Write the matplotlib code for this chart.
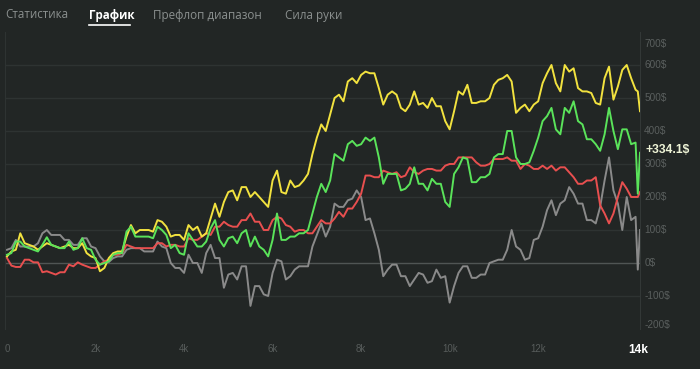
import numpy as np
import matplotlib
matplotlib.use('Agg')
import matplotlib.pyplot as plt
from matplotlib.lines import Line2D

plt.rcParams['font.family'] = ['Liberation Sans', 'DejaVu Sans']

# hands played (x axis): a reading every 100 hands, then the last hands
hands = np.append(np.arange(0, 14201, 100), [14250, 14300])

# winnings in $
yellow = [20, 35, 40, 90, 60, 55, 50, 40, 50, 60, 55, 50, 45, 50, 55, 45, 45, 60, 30, 20, 15, -25, -15, 15,
          30, 35, 35, 80, 115, 90, 100, 100, 100, 95, 130, 125, 110, 80, 85, 85, 70, 115, 100, 110, 80, 90,
          135, 180, 140, 185, 215, 220, 190, 230, 230, 200, 215, 200, 185, 170, 250, 280, 215, 210, 250, 230,
          235, 250, 270, 330,
          380, 420, 400, 450, 500, 510, 490, 550, 560, 545, 570, 580, 575, 575, 530, 480, 510, 520, 510, 470,
          460, 480, 520, 480,
          485, 470, 500, 475, 475, 430, 405, 460, 520, 510, 540, 485, 485, 490, 490, 500, 540, 555, 560, 570,
          550, 455, 470, 480,
          460, 480, 490, 545, 575, 600, 545, 520, 600, 580, 590, 530, 520, 520, 515, 485, 480, 560, 595, 495,
          535, 585, 600, 560, 525, 520, 460]
green = [25, 30, 65, 65, 50, 45, 40, 35, 55, 78, 55, 50, 45, 45, 65, 40, 45, 75, 45, 40, 10, -5, 0, 5,
         25, 30, 30, 95, 110, 80, 80, 80, 80, 75, 110, 100, 85, 45, 55, 30, 25, 90, 70, 50, 50, 65,
         105, 130, 70, 50, 75, 80, 60, 90, 100, 50, 80, 50, 40, 20, 70, 150, 70, 70, 80, 80, 90, 90, 100, 150,
         200, 240, 215, 250, 330, 320, 310, 360, 370, 355, 360, 380, 370, 380, 320, 240, 270, 270, 270, 220,
         225, 240, 290, 240,
         240, 220, 255, 240, 240, 185, 170, 270, 290, 320, 315, 245, 245, 260, 260, 270, 320, 330, 330, 400,
         400, 320, 300, 300,
         305, 340, 380, 430, 445, 470, 405, 390, 470, 455, 490, 430, 420, 375, 375, 360, 340, 390, 470, 400,
         345, 405, 405, 360, 365, 210, 334.1]
red = [15, -8, -12, -12, 10, 10, 2, 2, -28, -25, -30, -35, -28, -28, -5, -10, 2, -5, -10, -15, -15, -5, 5, 10,
       25, 25, 30, 55, 50, 45, 45, 45, 45, 45, 60, 60, 50, 55, 55, 50, 50, 75, 70, 70, 80, 90,
       85, 110, 110, 125, 115, 110, 110, 130, 130, 150, 125, 125, 100, 100, 130, 140, 135, 115, 110, 95,
       100, 100, 90, 90,
       110, 130, 120, 120, 135, 155, 140, 165, 165, 185, 210, 265, 265, 260, 260, 280, 275, 270, 275, 260,
       265, 290, 275, 270,
       280, 285, 285, 280, 280, 295, 300, 300, 320, 320, 320, 320, 305, 295, 295, 300, 315, 315, 315, 320,
       310, 310, 285, 300,
       295, 285, 285, 295, 285, 295, 280, 290, 290, 275, 260, 240, 240, 250, 250, 260, 175, 150, 120, 150,
       200, 245, 225, 200, 200, 200, 215]
gray = [40, 45, 70, 50, 50, 50, 50, 60, 90, 100, 85, 85, 85, 70, 70, 55, 55, 75, 75, 50, 45, 20, 5, 3,
        15, 20, 20, 40, 45, 45, 45, 35, 35, 35, 65, 50, 45, 0, -15, -15, -30, 25, 0, 0, -30, 30,
        55, 15, 15, -75, -35, -30, -50, -10, -10, -130, -70, -70, -95, -100, -30, 10, 5, -50, -40, -20,
        -10, -10, -10, 50,
        85, 120, 80, 110, 180, 170, 170, 190, 195, 220, 200, 130, 135, 90, 40, -40, -20, -5, -5, -40,
        -40, -70, -50, -30,
        -35, -60, -55, -20, -45, -40, -120, -70, -30, -10, -10, -45, -45, -35, -35, 0, 5, 10, 10, 40,
        100, 50, 40, 10,
        15, 70, 75, 110, 160, 190, 145, 180, 190, 230, 210, 180, 180, 130, 130, 120, 170, 250, 320, 220,
        180, 100, 200, 130, 140, -20, 100]

ytick_vals = [-200, -100, 0, 100, 200, 300, 400, 500, 600, 700]
xtick_vals = [0, 2000, 4000, 6000, 8000, 10000, 12000]
xtick_labels = ['0', '2k', '4k', '6k', '8k', '10k', '12k']
tabs = ['Статистика', 'График', 'Префлоп диапазон', 'Сила руки']

bg = '#222625'
fig = plt.figure(figsize=(7, 3.69), dpi=100, facecolor=bg)
ax = fig.add_axes([5 / 700, 40 / 369, 635 / 700, 297 / 369], facecolor=bg)

for v in ytick_vals[1:-1]:
    ax.axhline(v, color='#505554' if v == 0 else '#2e3332', lw=1, zorder=1)

ax.plot(hands, gray, color='#8a8a8a', lw=1.4, zorder=2)
ax.plot(hands, red, color='#e84f4f', lw=1.4, zorder=3)
ax.plot(hands, yellow, color='#f2e23f', lw=1.4, zorder=4)
ax.plot(hands, green, color='#5ae35a', lw=1.4, zorder=5)

ax.set_xlim(-45, hands[-1])
ax.set_ylim(-200, 700)

for s in ['top', 'bottom']:
    ax.spines[s].set_visible(False)
ax.spines['left'].set_color('#2e3332')
ax.spines['right'].set_color('#333837')

ax.set_yticks([])
ax.set_xticks(xtick_vals)
ax.set_xticklabels(xtick_labels)
ax.tick_params(axis='x', length=0, pad=11, labelsize=7, labelcolor='#575c5b')

# y labels on the right, edge ones pushed inward
ytr = ax.get_yaxis_transform()
for v in ytick_vals:
    dy = 0
    if v == 700:
        dy = -9
    if v == -200:
        dy = 3
    ax.annotate(f'{v}$', xy=(1, v), xycoords=ytr, xytext=(3, dy), textcoords='offset points',
                va='center', ha='left', fontsize=7.2, color='#5a5f5e', annotation_clip=False)

ax.annotate('14k', xy=(hands[-1], 0), xycoords=ax.get_xaxis_transform(), xytext=(-1, -15),
            textcoords='offset points', ha='center', va='center', fontsize=8.6, fontweight='bold',
            color='#ffffff', annotation_clip=False)

ax.annotate(f'+{green[-1]}$', xy=(1, green[-1]), xycoords=ytr, xytext=(4, 2), textcoords='offset points',
            va='center', ha='left', fontsize=8.7, fontweight='bold', color='#eef3d6',
            annotation_clip=False)

# tabs at the top
tab_x = [5, 89, 153, 285]
for t, x in zip(tabs, tab_x):
    active = t == 'График'
    fig.text(x / 700, 1 - 15 / 369, t, ha='left', va='center', fontsize=8.4,
             family=['Open Sans', 'DejaVu Sans'],
             fontweight='bold' if active else 'normal',
             color='#ffffff' if active else '#8b908f')
fig.add_artist(Line2D([89 / 700, 130 / 700], [1 - 25 / 369, 1 - 25 / 369], color='#ffffff', lw=1.2))

fig.savefig('out.png', dpi=100, facecolor=bg)
